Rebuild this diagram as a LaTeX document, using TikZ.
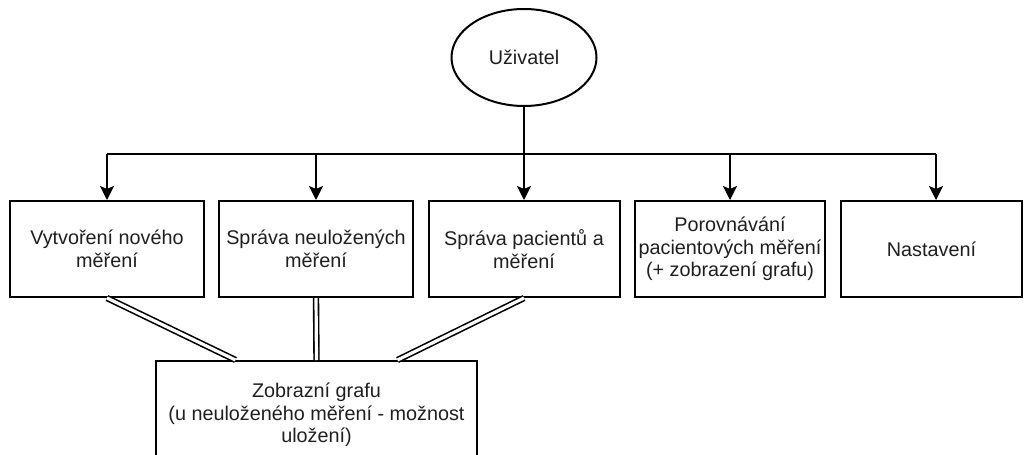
\documentclass[tikz,border=0pt]{standalone}
\usepackage{fontspec}
\setmainfont{Liberation Sans}
\usetikzlibrary{arrows.meta,shapes.geometric}
\begin{document}
\begin{tikzpicture}[x=1pt,y=-1pt,
  txt/.style={font=\fontsize{19.8}{22.5}\selectfont, text=black!88},
  box/.style={draw, line width=2pt, minimum width=194pt, minimum height=96pt, inner sep=0pt, align=center, txt},
  arr/.style={line width=2pt, -{Stealth[length=14pt, width=14pt, inset=3pt]}},
  ln/.style={line width=2pt},
  dbl/.style={line width=1.6pt, double, double distance=3.2pt}]
\useasboundingbox (0,0) rectangle (1031,455);
\node[draw, ellipse, line width=2pt, minimum width=145pt, minimum height=97pt, inner sep=0pt, txt] (u) at (524,57.5) {Uživatel};
\node[box] (b1) at (107,249) {Vytvoření nového\\měření};
\node[box] (b2) at (316,249) {Správa neuložených\\měření};
\node[box, minimum width=191pt] (b3) at (524,249) {Správa pacientů a\\měření};
\node[box, minimum width=190pt] (b4) at (730,249) {Porovnávání\\pacientových měření\\(+ zobrazení grafu)};
\node[box, minimum width=181pt] (b5) at (931.5,249) {Nastavení};
\node[box, minimum width=321pt, minimum height=108pt] (g) at (316.5,415) {Zobrazní grafu\\(u neuloženého měření - možnost\\uložení)};
\coordinate (bus) at (0,154);
\coordinate (e5) at (936,154);
\draw[ln] (u.south) -- (u.south |- bus);
\draw[ln] (b1.north |- bus) -- (e5);
\draw[arr] (b1.north |- bus) -- (b1.north);
\draw[arr] (b2.north |- bus) -- (b2.north);
\draw[arr] (b3.north |- bus) -- (b3.north);
\draw[arr] (b4.north |- bus) -- (b4.north);
\draw[arr] (e5) -- (e5 |- b5.north);
\draw[dbl] (b1.south) -- ([xshift=-81pt]g.north);
\draw[dbl] (b2.south) -- (g.north);
\draw[dbl] (b3.south) -- ([xshift=81pt]g.north);
\end{tikzpicture}
\end{document}
